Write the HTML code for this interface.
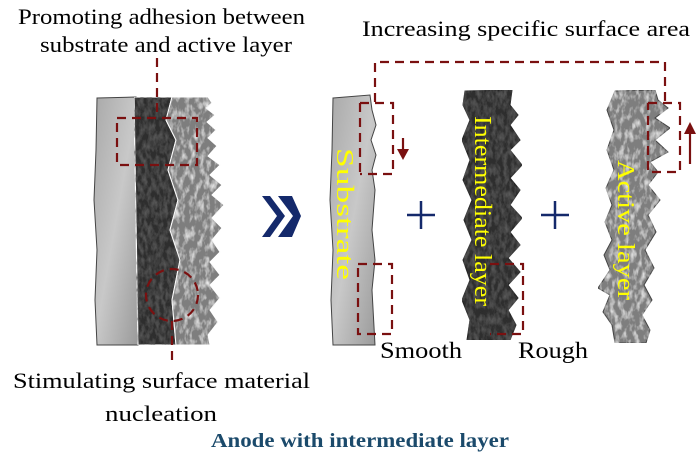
<!DOCTYPE html>
<html><head><meta charset="utf-8"><style>
html,body{margin:0;padding:0;background:#fff;}
svg{display:block;}
text{font-family:"Liberation Serif",serif;}
</style></head><body>
<svg width="700" height="458" viewBox="0 0 700 458" xmlns="http://www.w3.org/2000/svg">
<defs>
<linearGradient id="sub" x1="0" y1="0" x2="1" y2="1"><stop offset="0" stop-color="#a9a9a9"/><stop offset="0.5" stop-color="#c8c8c8"/><stop offset="1" stop-color="#9a9a9a"/></linearGradient>
<filter id="n1" x="0" y="0" width="100%" height="100%"><feTurbulence type="fractalNoise" baseFrequency="0.25 0.12" numOctaves="3" seed="3"/><feColorMatrix type="matrix" values="0 0 0 0 0.1  0 0 0 0 0.1  0 0 0 0 0.1  0 0 0 -2 1.3"/><feComposite in2="SourceGraphic" operator="in"/><feMerge><feMergeNode in="SourceGraphic"/><feMergeNode/></feMerge></filter>
<filter id="n2" x="0" y="0" width="100%" height="100%"><feTurbulence type="fractalNoise" baseFrequency="0.2 0.1" numOctaves="3" seed="7"/><feColorMatrix type="matrix" values="0 0 0 0 0.85  0 0 0 0 0.85  0 0 0 0 0.85  0 0 0 -2 1.1"/><feComposite in2="SourceGraphic" operator="in"/><feMerge><feMergeNode in="SourceGraphic"/><feMergeNode/></feMerge></filter>
</defs>

<text x="18" y="24" font-size="22" textLength="287" lengthAdjust="spacingAndGlyphs">Promoting adhesion between</text>
<text x="40" y="52" font-size="22" textLength="252" lengthAdjust="spacingAndGlyphs">substrate and active layer</text>
<text x="362" y="36" font-size="22" textLength="328" lengthAdjust="spacingAndGlyphs">Increasing specific surface area</text>

<path d="M97,98 L136,97 L138,345 L97,345 L95,300 L97,250 L94,200 L96,150 Z" fill="url(#sub)" stroke="#444" stroke-width="1"/>
<path d="M134,97 L172,97 L166,120 L176,140 L168,170 L178,200 L170,230 L180,260 L172,300 L176,345 L138,345 Z" fill="#2e2e2e" stroke="#fff" stroke-width="1.2" filter="url(#n1)"/>
<path d="M172,97 L208,97 L212,103 L206,108 L215,115 L207,122 L216,130 L208,138 L217,146 L208,156 L220,165 L210,175 L222,185 L212,195 L224,205 L212,218 L222,228 L212,240 L220,252 L210,262 L220,275 L210,285 L220,298 L210,310 L218,322 L208,335 L210,345 L176,345 L172,300 L180,260 L170,230 L178,200 L168,170 L176,140 L166,120 Z" fill="#7e7e7e" stroke="#fff" stroke-width="1" filter="url(#n2)"/>
<g fill="none" stroke="#7a1010" stroke-width="2.2" stroke-dasharray="9,6">
<rect x="117" y="118" width="80" height="47"/>
<line x1="157" y1="58" x2="157" y2="118"/>
<circle cx="172" cy="295" r="26"/>
<line x1="172" y1="321" x2="172" y2="366"/>
</g>

<path d="M262,196 L277,216 L262,237 L270,237 L285,216 L270,196 Z M278,196 L293,216 L278,237 L292,237 L301,216 L292,196 Z" fill="#14296b"/>

<path d="M333,98 L370,95 L372,110 L376,125 L371,140 L376,155 L372,170 L375,190 L372,230 L375,260 L372,290 L375,345 L333,345 L331,300 L333,250 L330,200 L332,150 Z" fill="url(#sub)" stroke="#444" stroke-width="1"/>
<text transform="translate(337,148) rotate(90)" font-size="24" fill="#ffff00" textLength="132" lengthAdjust="spacingAndGlyphs">Substrate</text>

<path d="M465,91 L512,90 L510,105 L518,115 L510,125 L520,140 L510,150 L522,165 L510,178 L520,190 L510,205 L522,218 L510,232 L520,245 L508,258 L520,272 L508,285 L518,298 L508,310 L516,325 L510,340 L467,340 L470,320 L462,300 L470,280 L463,260 L472,240 L464,220 L472,200 L463,180 L470,160 L462,140 L470,120 L463,105 Z" fill="#2e2e2e" stroke="#222" stroke-width="1" filter="url(#n1)"/>
<text transform="translate(475,116) rotate(90)" font-size="24" fill="#ffff00" textLength="190" lengthAdjust="spacingAndGlyphs">Intermediate layer</text>

<path d="M615,91 L655,90 L658,100 L668,108 L655,118 L670,128 L655,140 L668,152 L650,162 L658,172 L648,185 L660,200 L648,215 L656,232 L645,250 L654,268 L644,285 L652,300 L642,315 L650,330 L646,343 L615,343 L612,325 L603,312 L610,295 L598,288 L610,270 L604,255 L612,240 L605,222 L612,205 L606,188 L614,170 L607,150 L614,130 L607,110 Z" fill="#7e7e7e" stroke="#444" stroke-width="1" filter="url(#n2)"/>
<text transform="translate(618,160) rotate(90)" font-size="24" fill="#ffff00" textLength="140" lengthAdjust="spacingAndGlyphs">Active layer</text>

<g fill="none" stroke="#7a1010" stroke-width="2.2" stroke-dasharray="9,6">
<polyline points="375,102 375,62 665,62 665,105"/>
<polyline points="360,103 393,103 393,174 360,174"/>
<polyline points="360,103 360,174"/>
<polyline points="358,264 392,264 392,334 358,334 358,264"/>
<polyline points="490,264 523,264 523,334 490,334"/>
<polyline points="648,103 680,103 680,172 648,172 648,103"/>
</g>
<line x1="403" y1="138" x2="403" y2="150" stroke="#7a1010" stroke-width="2.2"/>
<path d="M397,149 L409,149 L403,160 Z" fill="#7a1010"/>
<line x1="690" y1="164" x2="690" y2="132" stroke="#7a1010" stroke-width="2.2"/>
<path d="M684,134 L696,134 L690,122 Z" fill="#7a1010"/>

<g stroke="#14296b" stroke-width="2.5">
<line x1="407" y1="215" x2="435" y2="215"/><line x1="421" y1="201" x2="421" y2="229"/>
<line x1="541" y1="215" x2="569" y2="215"/><line x1="555" y1="201" x2="555" y2="229"/>
</g>

<text x="380" y="358" font-size="23" textLength="82" lengthAdjust="spacingAndGlyphs">Smooth</text>
<text x="518" y="358" font-size="23" textLength="70" lengthAdjust="spacingAndGlyphs">Rough</text>

<text x="13" y="388" font-size="22" textLength="297" lengthAdjust="spacingAndGlyphs">Stimulating surface material</text>
<text x="105" y="421" font-size="22" textLength="112" lengthAdjust="spacingAndGlyphs">nucleation</text>
<text x="211" y="447" font-size="20" font-weight="bold" fill="#1b4a6b" textLength="298" lengthAdjust="spacingAndGlyphs">Anode  with intermediate layer</text>
</svg>
</body></html>
